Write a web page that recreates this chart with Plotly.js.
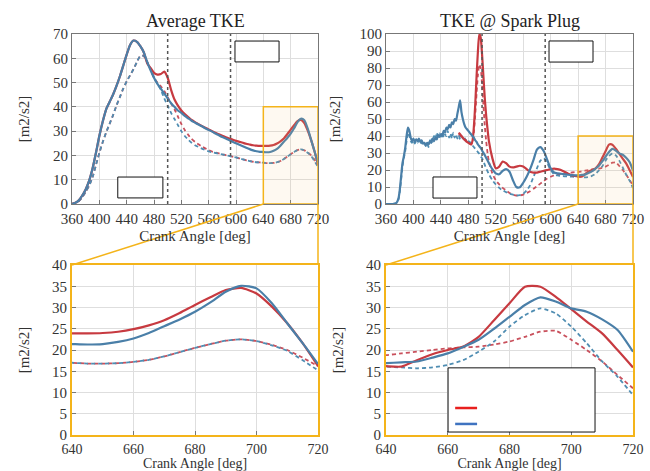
<!DOCTYPE html>
<html>
<head>
<meta charset="utf-8">
<script src="https://cdn.plot.ly/plotly-3.0.1.min.js"></script>
<style>
  html, body { margin: 0; padding: 0; background: #fff; }
  #chart { width: 650px; height: 471px; }
  #chart svg text { font-family: 'Liberation Serif', 'Times New Roman', serif !important; }
</style>
</head>
<body>
<div id="chart"></div>
<script>
// ---- Average TKE (crank angle every 5 deg) ----
const avgAngle = [];
for (let a = 360; a <= 720; a += 5) avgAngle.push(a);

const avgBlueSolid = [0,0.5,1.5,3.5,6,9.5,14.5,21,28,34,39,42,45,48.5,52.5,57,61.5,65.5,67.3,66.8,65,62.5,58.5,55,52,49.5,47.5,45.5,43.5,41.5,40,38.5,37.5,36.3,35.3,34.3,33.5,32.7,32,31.2,30.5,29.8,29,28.3,27.6,27,26.3,25.6,25,24.4,23.8,23.2,22.6,22.1,21.7,21.5,21.4,21.3,21.4,21.9,22.7,24,25.6,27.2,29,31.2,33.7,35.1,34.5,31,26.3,21.6,16.7];
const avgRedSolid = [0,0.5,1.5,3.5,6,9.5,14.5,21,28,34,39,42,45,48.5,52.5,57,61.5,65.5,67.3,66.8,65,62.5,58,56,54,53.3,53.5,54.5,52,47,43,40.5,38.5,37,35.8,34.6,33.7,32.9,32.1,31.4,30.7,30,29.3,28.7,28.1,27.5,27,26.5,26,25.6,25.2,24.8,24.5,24.2,24,23.9,23.9,23.9,24,24.3,24.9,25.8,27,28.7,30.6,32.4,34.1,34.6,33.3,30.2,26.3,21.6,16.2];
const avgBlueDash = [0,0.4,1.2,2.8,5,7.5,11,16,21,25.5,29.5,33,36.5,40.5,44,47.5,50.5,53,55.5,58.5,61,61,58.5,55.5,52,49.5,47,43.5,40.5,37.5,35,32.5,30,28,26.5,25.2,24.2,23.5,22.8,22.2,21.7,21.3,21,20.7,20.4,20.1,19.8,19.5,19.2,18.8,18.4,18,17.7,17.4,17.2,17.1,17,16.8,16.8,16.9,17.2,17.7,18.5,19.5,20.5,21.4,22.2,22.5,22.1,21.1,19.8,17.6,15.2];
const avgRedDash = [0,0.4,1.2,2.8,5,7.5,11,16,21,25.5,29.5,33,36.5,40.5,44,47.5,50.5,53,55.5,58.5,61,61,58.5,55.5,52,50,48.5,46.5,44,41.5,39,36,33,30.5,28.5,26.8,25.6,24.6,23.7,22.9,22.2,21.6,21.2,20.8,20.5,20.1,19.8,19.5,19.2,18.8,18.4,18,17.7,17.4,17.2,17.1,17,16.8,16.8,16.9,17.2,17.7,18.5,19.5,20.5,21.4,22.2,22.5,22.1,21.2,20,18.2,16.2];

// ---- TKE at the spark plug ----
const spkAngle = [360,365,370,375,378,380,382,384,386,388,390,392,394,396,398,400,402,404,406,408,410,412,414,416,418,420,422,424,426,428,430,432,434,436,438,440,442,444,446,448,450,452,454,456,458,460,462,464,466,468,470,472,474,476,478,480,482,484,486,488,490,492,494,496,498,500,505,510,515,520,525,530,535,540,545,550,555,560,565,570,575,580,585,590,595,600,605,610,615,620,625,630,635,640,645,650,655,660,665,670,675,680,685,690,695,700,705,710,715,720];
const spkBlueSolid = [0,0,0,0.5,3,8,16,24,28,33,40,45,43,39,37,38.5,36.5,38,37,38.5,36.5,37.5,35.5,36,34.5,36,35,37,36,38.5,37,39,38,40.5,39.5,41,40,43,42,45,44,46.5,45,48,47,50,49,53,57,61,54,50,47,45,44,43,42,41,40,39,37.5,36.5,35,34,33,31.5,28,24,20.5,18,17.5,19.5,20.5,19,14,10,9.8,12.5,16,20.5,26,32,33.5,31,26,21,18.5,18,17.8,17.5,17.2,17,16.8,16.9,17.1,17.3,18.2,19.2,20.7,22.4,25,27.8,30.6,32.4,31.4,29.8,29,27.2,24.7,19.6];
const spkBlueDash = [0,0,0,0.5,2.5,7,14,22,27,31,37,42,40,37,36,37.5,35.5,37,36,37.5,35.5,36.5,34.5,35.5,34,35.5,33.5,37,39,36.5,40,38,42,39.5,41.5,38.5,42.5,39,41,40,43,39,41.5,38.5,42,39,41,38.5,40.5,38,40,38.5,39.5,37.5,38.5,37,36.5,35.5,34.5,33.5,32.5,31.5,30.5,29.5,28,27,22,17.5,14,11.5,9.5,8,7,6,5.5,5,5.2,6,8,11,16,21,25.5,27,24,20,17.5,16.8,16.5,16.3,16.2,16.1,16,16.1,15.9,15.7,15.9,16.5,17.6,19.6,22,25.5,28.2,29.8,28.6,25.5,21.6,17.3,13.7,9.4];

const spkRedAngle = [466,468,470,472,474,476,478,480,482,484,486,488,490,492,494,496,498,500,502,504,506,508,510,515,520,525,530,535,540,545,550,555,560,565,570,575,580,585,590,595,600,605,610,615,620,625,630,635,640,645,650,655,660,665,670,675,680,685,690,695,700,705,710,715,720];
const spkRedSolid = [42,41,40,39,38,37.5,36.5,36,35.5,35,37,45,58,75,90,100,98,88,75,62,52,44,37,27,21,22,25,24,22,21.5,22,22.5,22,20.5,19,18.5,18.5,19,19.5,20,20.5,20.8,20.5,20,19,18,17,16.5,16.2,16.1,17.6,19,20,20.8,23.1,27,31,34.9,34.9,32.5,29.6,26.7,23.9,20,15.9];
const spkRedDash = [41,40,39.5,38.5,38,37,36.5,36,35.5,35,36,42,52,65,76,82,80,70,58,46,37,30,25,18,14,11.5,9.5,8,6.5,5.5,5,5,5.5,6.5,7.5,9,10.5,12,13.5,15,16,16.8,17.3,17.7,18,18.3,18.5,18.7,18.8,19.2,19.6,20,20.4,20.6,20.8,21.3,22,23.1,24.3,24.5,22.4,20,17.3,14.1,11];

// reference crank angles marked with dotted lines
const markerAngles = [500, 592];

// tick values
const topXTicks = [360,400,440,480,520,560,600,640,680,720];
const avgYTicks = [0,10,20,30,40,50,60,70];
const spkYTicks = [0,10,20,30,40,50,60,70,80,90,100];
const zoomXTicks = [640,660,680,700,720];
const zoomYTicks = [0,5,10,15,20,25,30,35,40];

const RED = '#c73a40', BLUE = '#4a7fa8';
const RED_D = '#c9505c', BLUE_D = '#4f8db2';
const ORANGE = '#f4b41a';
const FONT = 'Liberation Serif';

function series(x, y, color, dashed, xa, ya) {
  return {
    x: x, y: y, type: 'scatter', mode: 'lines', xaxis: xa, yaxis: ya,
    showlegend: false, hoverinfo: 'skip',
    line: { color: color, width: dashed ? 1.8 : 2.2, dash: dashed ? '4px,3px' : 'solid', shape: 'spline', smoothing: 0.6 }
  };
}

const traces = [];
[['x', 'y'], ['x3', 'y3']].forEach(([xa, ya]) => {
  traces.push(series(avgAngle, avgRedDash, RED_D, true, xa, ya));
  traces.push(series(avgAngle, avgBlueDash, BLUE_D, true, xa, ya));
  traces.push(series(avgAngle, avgRedSolid, RED, false, xa, ya));
  traces.push(series(avgAngle, avgBlueSolid, BLUE, false, xa, ya));
});
[['x2', 'y2'], ['x4', 'y4']].forEach(([xa, ya]) => {
  traces.push(series(spkRedAngle, spkRedDash, RED_D, true, xa, ya));
  traces.push(series(spkAngle, spkBlueDash, BLUE_D, true, xa, ya));
  traces.push(series(spkRedAngle, spkRedSolid, RED, false, xa, ya));
  traces.push(series(spkAngle, spkBlueSolid, BLUE, false, xa, ya));
});

// panel placement (paper fractions)
const W = 650, H = 471;
const colL = [72 / W, 318 / W], colR = [386 / W, 633 / W];
const rowT = [1 - 204 / H, 1 - 34 / H], rowB = [1 - 435 / H, 1 - 265 / H];

function xAxis(domain, anchor, range, ticks, zoom) {
  return {
    domain: domain, anchor: anchor, range: range, tickvals: ticks,
    showgrid: true, gridcolor: '#dedede', gridwidth: 1, zeroline: false,
    showline: true, mirror: true, linecolor: zoom ? ORANGE : '#777', linewidth: zoom ? 2 : 1,
    ticks: 'inside', ticklen: 4, tickcolor: '#777',
    tickfont: { family: FONT, size: zoom ? 14 : 15, color: '#333' }, ticklabelstandoff: zoom ? 0 : 1,
    title: { text: 'Crank Angle [deg]', font: { family: FONT, size: zoom ? 14 : 15, color: '#333' }, standoff: zoom ? 6 : 4 }
  };
}
function yAxis(domain, anchor, range, ticks, zoom, standoff) {
  return {
    domain: domain, anchor: anchor, range: range, tickvals: ticks,
    showgrid: true, gridcolor: '#dedede', gridwidth: 1, zeroline: false,
    showline: true, mirror: true, linecolor: zoom ? ORANGE : '#777', linewidth: zoom ? 2 : 1,
    ticks: 'inside', ticklen: 4, tickcolor: '#777',
    tickfont: { family: FONT, size: 15, color: '#333' },
    title: { text: '[m2/s2]', font: { family: FONT, size: 15, color: '#333' }, standoff: standoff }
  };
}

const layout = {
  width: W, height: H,
  margin: { l: 0, r: 0, t: 0, b: 0 },
  paper_bgcolor: '#fff', plot_bgcolor: '#fff',
  font: { family: FONT, size: 15, color: '#333' },
  xaxis: xAxis(colL, 'y', [360, 720], topXTicks, false),
  yaxis: yAxis(rowT, 'x', [0, 70], avgYTicks, false, 19),
  xaxis2: xAxis(colR, 'y2', [360, 720], topXTicks, false),
  yaxis2: yAxis(rowT, 'x2', [0, 100], spkYTicks, false, 15),
  xaxis3: xAxis(colL, 'y3', [640, 720], zoomXTicks, true),
  yaxis3: yAxis(rowB, 'x3', [0, 40], zoomYTicks, true, 19),
  xaxis4: xAxis(colR, 'y4', [640, 720], zoomXTicks, true),
  yaxis4: yAxis(rowB, 'x4', [0, 40], zoomYTicks, true, 19),
  annotations: [
    { text: 'Average TKE', xref: 'paper', yref: 'paper', x: (colL[0] + colL[1]) / 2, xanchor: 'center',
      y: rowT[1], yanchor: 'bottom', yshift: 1,
      showarrow: false, font: { family: FONT, size: 18, color: '#222' } },
    { text: 'TKE @ Spark Plug', xref: 'paper', yref: 'paper', x: (colR[0] + colR[1]) / 2, xanchor: 'center',
      y: rowT[1], yanchor: 'bottom', yshift: 1,
      showarrow: false, font: { family: FONT, size: 18, color: '#222' } }
  ],
  shapes: []
};

const shapes = layout.shapes;

// dotted reference lines in the two overview panels
[['x', 'y domain'], ['x2', 'y2 domain']].forEach(([xr, yr]) => {
  markerAngles.forEach(a => shapes.push({
    type: 'line', xref: xr, yref: yr, x0: a, x1: a, y0: 0, y1: 1,
    line: { color: '#555', width: 1.5, dash: 'dot' }, layer: 'above'
  }));
});

// highlighted zoom window and connectors to the detail panels
function px(dom, rng, v) { return dom[0] + (v - rng[0]) / (rng[1] - rng[0]) * (dom[1] - dom[0]); }
[
  { xr: 'x', yr: 'y', col: colL, topRange: [0, 70] },
  { xr: 'x2', yr: 'y2', col: colR, topRange: [0, 100] }
].forEach(p => {
  shapes.push({
    type: 'rect', xref: p.xr, yref: p.yr, x0: 640, x1: 720, y0: 0, y1: 40,
    fillcolor: 'rgba(245,200,120,0.10)', line: { color: ORANGE, width: 1.5 }, layer: 'above'
  });
  const xa = px(p.col, [360, 720], 640), xb = px(p.col, [360, 720], 720);
  const yTop = px(rowT, p.topRange, 0);
  shapes.push({ type: 'line', xref: 'paper', yref: 'paper', x0: xa, y0: yTop, x1: p.col[0], y1: rowB[1],
    line: { color: ORANGE, width: 1.5 } });
  shapes.push({ type: 'line', xref: 'paper', yref: 'paper', x0: xb, y0: yTop, x1: p.col[1], y1: rowB[1],
    line: { color: ORANGE, width: 1.5 } });
});

// label boxes
function box(xr, yr, x0, x1, y0, y1) {
  shapes.push({ type: 'rect', xref: xr, yref: yr, x0: x0, x1: x1, y0: y0, y1: y1,
    fillcolor: '#fff', line: { color: '#111', width: 1 }, layer: 'above' });
}
box('x', 'y', 427, 493, 2.5, 11.1);
box('x', 'y', 598.5, 663, 58.5, 67.1);
box('x2', 'y2', 428.5, 492.6, 3.5, 15.9);
box('x2', 'y2', 597.6, 661.7, 83.5, 95.9);
box('x4', 'y4', 660.1, 707.7, 0.7, 15.8);

// key swatches inside the detail box
shapes.push({ type: 'line', xref: 'x4', yref: 'y4', x0: 662.4, x1: 669.5, y0: 6.35, y1: 6.35,
  line: { color: '#e8201e', width: 2.5 }, layer: 'above' });
shapes.push({ type: 'line', xref: 'x4', yref: 'y4', x0: 662.4, x1: 669.5, y0: 2.6, y1: 2.6,
  line: { color: '#3f73c0', width: 2.5 }, layer: 'above' });

Plotly.newPlot('chart', traces, layout, { staticPlot: true, displayModeBar: false });
</script>
</body>
</html>
